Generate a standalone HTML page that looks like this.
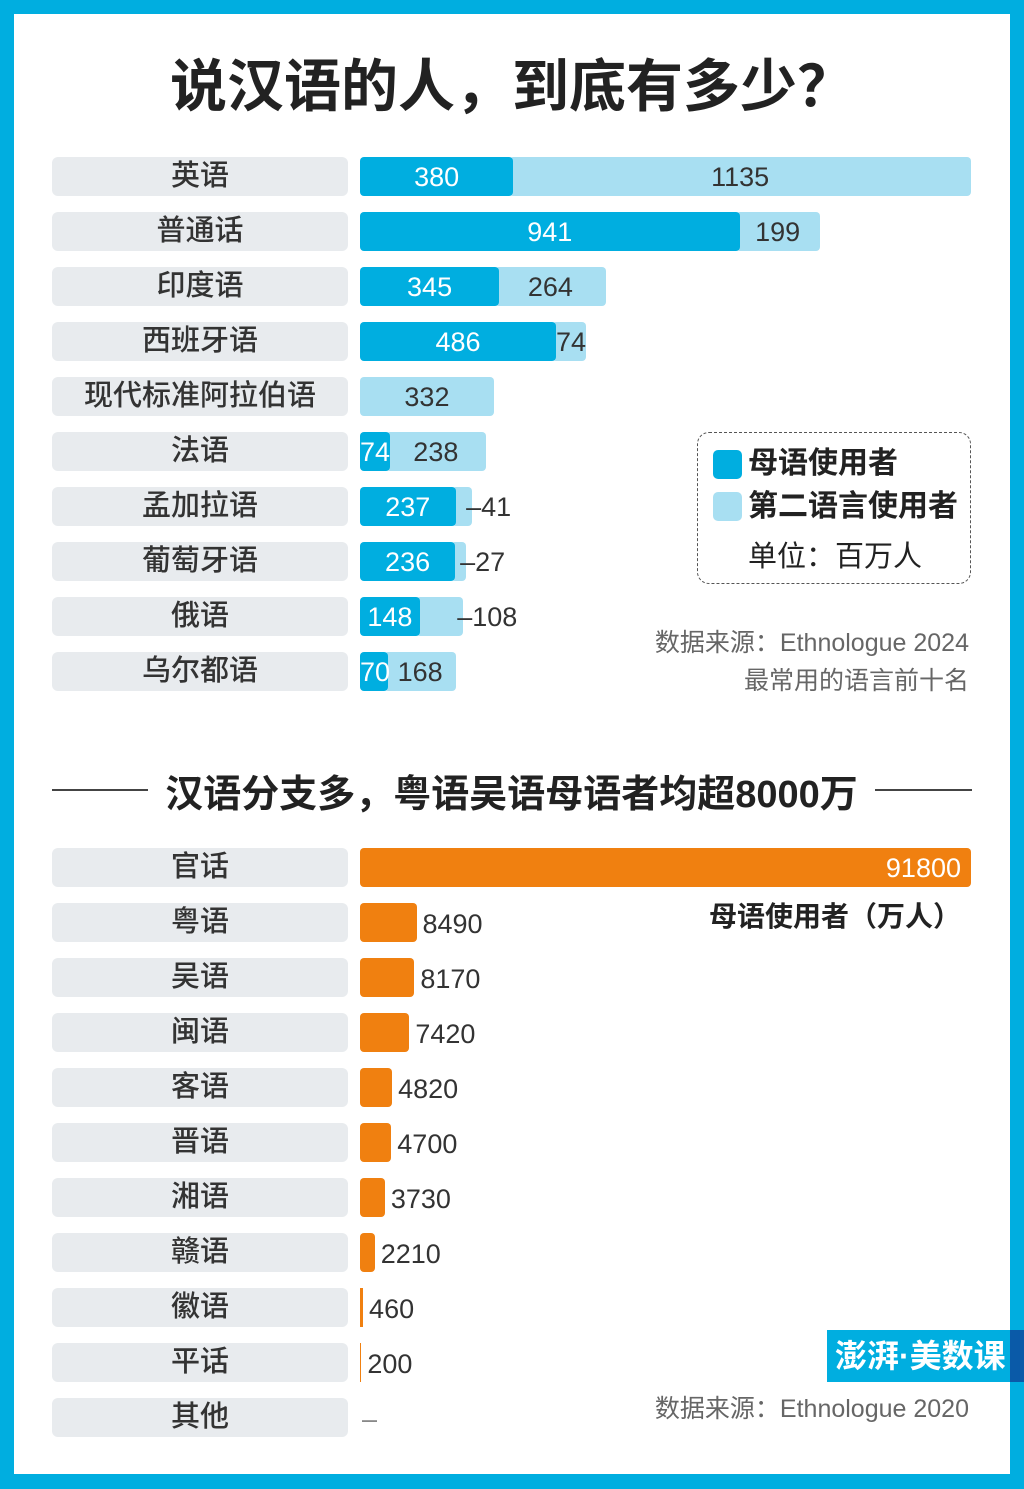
<!DOCTYPE html>
<html><head><meta charset="utf-8">
<style>
*{margin:0;padding:0;box-sizing:border-box}
body{width:1024px;height:1489px;background:#00AEE0;position:relative;overflow:hidden;font-family:"Liberation Sans","Noto Sans CJK SC",sans-serif}
#card{position:absolute;left:14px;top:14px;width:996px;height:1460px;background:#fff}
.a{position:absolute}
.lab{position:absolute;left:52px;width:296px;height:39px;background:#E8EBEE;border-radius:6px;color:#333;font-size:29px;text-align:center;line-height:39px;font-weight:500}
.bar{position:absolute;height:39px;color:#fff;font-size:27px;text-align:center;line-height:41px;overflow:visible;white-space:nowrap}
.num{position:absolute;font-size:27px;color:#333;line-height:39px;white-space:nowrap}
</style></head><body>
<div id="card"></div>
<div class="a" style="left:0;top:52px;width:1024px;text-align:center;font-size:57px;font-weight:bold;color:#222;line-height:70px">说汉语的人，到底有多少？</div>
<div id="c"></div>
<div class="a" style="left:697px;top:432px;width:274px;height:152px;border:1.5px dashed #555;border-radius:12px"></div>
<div class="a" style="left:713px;top:450px;width:29px;height:29px;background:#00AEE0;border-radius:5px"></div>
<div class="a" style="left:713px;top:492px;width:29px;height:29px;background:#A8DFF2;border-radius:5px"></div>
<div class="a" style="left:748px;top:444px;font-size:30px;font-weight:bold;color:#222;line-height:40px">母语使用者</div>
<div class="a" style="left:748px;top:487px;font-size:30px;font-weight:bold;color:#222;line-height:40px">第二语言使用者</div>
<div class="a" style="left:748px;top:537px;font-size:29px;color:#222;line-height:40px">单位：百万人</div>
<div class="a" style="right:55px;top:624px;font-size:25px;color:#666;line-height:38px;text-align:right">数据来源：Ethnologue 2024<br>最常用的语言前十名</div>
<div class="a" style="left:52px;top:789px;width:96px;height:1.5px;background:#444"></div>
<div class="a" style="left:875px;top:789px;width:97px;height:1.5px;background:#444"></div>
<div class="a" style="left:148px;top:772px;width:727px;text-align:center;font-size:38px;font-weight:bold;color:#222;line-height:46px;white-space:nowrap">汉语分支多，粤语吴语母语者均超8000万</div>
<div class="a" style="left:709px;top:898px;font-size:28px;font-weight:bold;color:#222;line-height:38px">母语使用者（万人）</div>
<div class="a" style="right:55px;top:1392px;font-size:25px;color:#666;line-height:34px">数据来源：Ethnologue 2020</div>
<div class="a" style="left:827px;top:1330px;width:197px;height:52px;background:#00AEE0"></div>
<div class="a" style="left:1010px;top:1330px;width:14px;height:52px;background:#0A5AA8"></div>
<div class="a" style="left:835px;top:1330px;font-size:32px;color:#fff;line-height:52px;font-weight:bold">澎湃·美数课</div>
<script>
(function(){
var c=document.getElementById('c'),k=611/1515,h='';
var rows=[["英语",380,1135],["普通话",941,199],["印度语",345,264],["西班牙语",486,74],["现代标准阿拉伯语",0,332],["法语",74,238],["孟加拉语",237,41],["葡萄牙语",236,27],["俄语",148,108],["乌尔都语",70,168]];
rows.forEach(function(r,i){var y=157+55*i;h+='<div class="lab" style="top:'+y+'px">'+r[0]+'</div>';
var w1=r[1]*k,w2=r[2]*k,x=360;
if(r[1])h+='<div class="bar" style="left:'+x+'px;top:'+y+'px;width:'+w1+'px;background:#00AEE0;border-radius:4px;z-index:2">'+r[1]+'</div>';
var x2=x+w1, off=r[1]?4:0;
if(w2>46)h+='<div class="bar" style="left:'+(x2-off)+'px;top:'+y+'px;width:'+(w2+off)+'px;background:#A8DFF2;border-radius:4px;color:#333">'+r[2]+'</div>';
else{h+='<div class="bar" style="left:'+(x2-4)+'px;top:'+y+'px;width:'+(w2+4)+'px;background:#A8DFF2;border-radius:4px"></div>';
 if(r[0]=="西班牙语")h+='<div class="num" style="left:'+(x2)+'px;top:'+(y+1)+'px;z-index:3">'+r[2]+'</div>';
 else h+='<div class="num" style="left:'+(x2+w2-6)+'px;top:'+(y+1)+'px;z-index:3">–'+r[2]+'</div>';}
});
var k2=611/91800;
var bot=[["官话",91800],["粤语",8490],["吴语",8170],["闽语",7420],["客语",4820],["晋语",4700],["湘语",3730],["赣语",2210],["徽语",460],["平话",200],["其他",0]];
bot.forEach(function(r,i){var y=848+55*i;h+='<div class="lab" style="top:'+y+'px">'+r[0]+'</div>';
var w=Math.max(r[1]*k2,1);
if(i==0)h+='<div class="bar" style="left:360px;top:'+y+'px;width:'+w+'px;background:#F08010;border-radius:4px;text-align:right;padding-right:10px">91800</div>';
else if(r[1]){h+='<div class="bar" style="left:360px;top:'+y+'px;width:'+w+'px;background:#F08010;border-radius:'+(w>5?4:0)+'px"></div>';
 h+='<div class="num" style="left:'+(366+w)+'px;top:'+(y+2)+'px">'+r[1]+'</div>';}
else h+='<div class="num" style="left:362px;top:'+(y+2)+'px;color:#888">–</div>';
});
c.innerHTML=h;
})();
</script>
</body></html>
